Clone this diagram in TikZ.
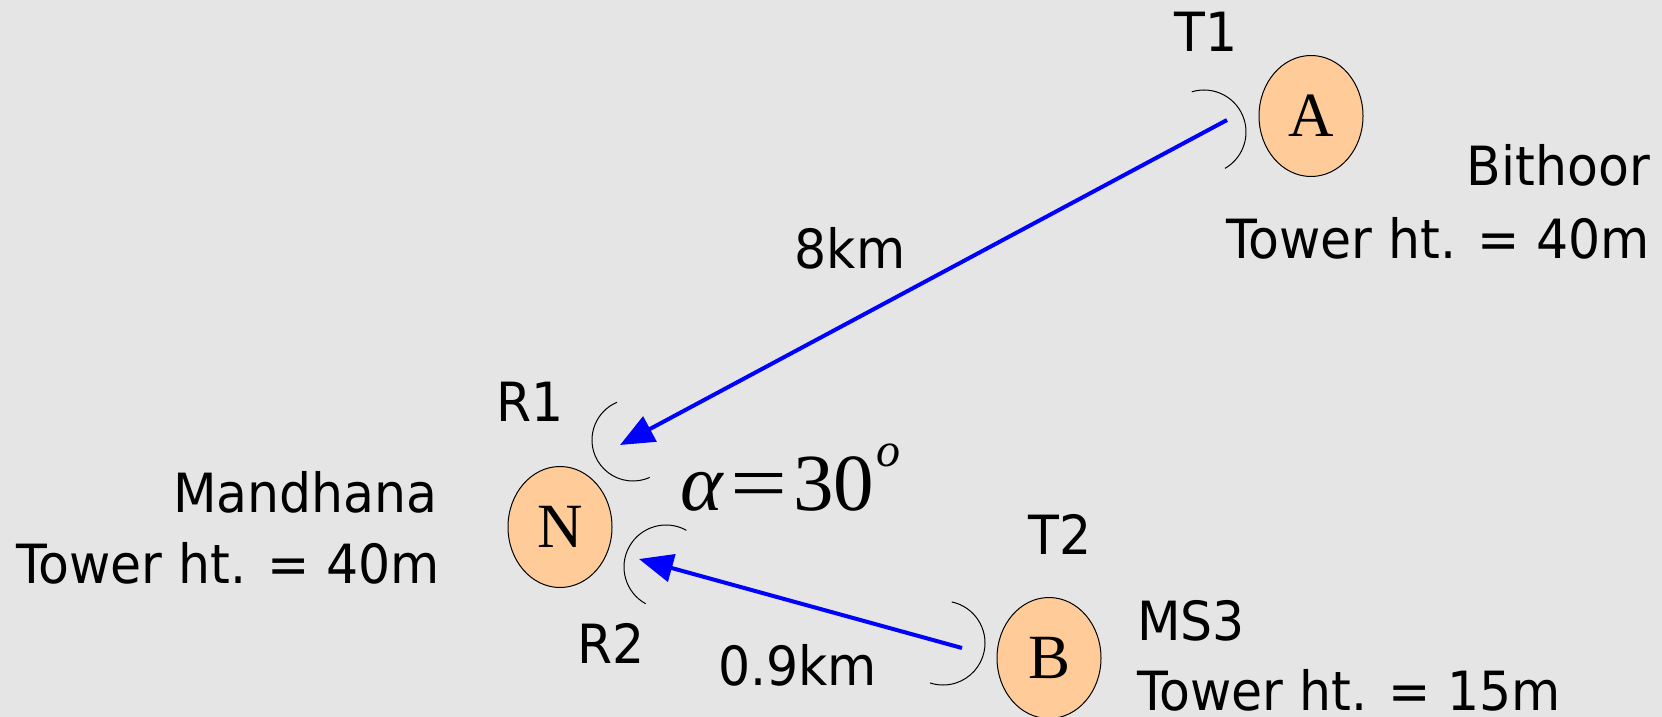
\documentclass[tikz,border=0pt]{standalone}
\usepackage{fontspec}
\setmainfont{Liberation Serif}
\newfontfamily\labfont{DejaVu Sans}
\usetikzlibrary{arrows.meta,shapes.geometric}
\definecolor{bgmarble}{RGB}{229,229,229}
\definecolor{peach}{RGB}{255,204,153}
\newcommand{\tallt}[1]{\scalebox{1}[1.07]{#1}}
\begin{document}
\begin{tikzpicture}[x=1pt,y=1pt,
  lab/.style={inner sep=0pt, font=\labfont\fontsize{50.5}{60}\selectfont},
  stn/.style={ellipse, draw=black, line width=1pt, fill=peach,
    minimum width=104pt, minimum height=121pt, inner sep=0pt,
    font=\fontsize{63}{70}\selectfont},
  ant/.style={draw=black, line width=1pt},
  link/.style={draw=blue, line width=4pt, -{Triangle[length=34pt,width=28pt]}},
]
\fill[bgmarble] (0,0) rectangle (1662,-717);
\useasboundingbox (0,0) rectangle (1662,-717);

% stations
\node[stn] (A) at (1311,-116) {A};
\node[stn] (N) at (560,-527) {N};
\node[stn] (B) at (1049,-658) {B};

% antenna arcs
\coordinate (T1c) at (1204,-132);
\coordinate (R1c) at (633,-440);
\coordinate (R2c) at (666,-567);
\coordinate (T2c) at (943,-643);
\draw[ant] (T1c) ++(107:42) arc[start angle=107, end angle=-60, radius=42];
\draw[ant] (R1c) ++(113:41) arc[start angle=113, end angle=294, radius=41];
\draw[ant] (R2c) ++(61:42) arc[start angle=61, end angle=241, radius=42];
\draw[ant] (T2c) ++(78:42) arc[start angle=78, end angle=-108, radius=42];

% links
\coordinate (Atx) at (1227,-120);
\coordinate (Nr1) at (620,-445);
\coordinate (Btx) at (962,-648);
\coordinate (Nr2) at (639,-559);
\draw[link] (Atx) -- (Nr1);
\draw[link] (Btx) -- (Nr2);

% labels
\node[lab, anchor=base] (t1) at (1206,-52) {\tallt{T1}};
\node[lab, anchor=base east] (bith) at (1650,-185) {\tallt{Bithoor}};
\node[lab, anchor=base east] (towA) at (1650,-258) {\tallt{Tower ht. = 40m}};
\node[lab, anchor=base] (d1) at (850,-268) {\tallt{8km}};
\node[lab, anchor=base] (r1) at (530,-421) {\tallt{R1}};
\node[lab, anchor=base east] (mand) at (438,-512) {\tallt{Mandhana}};
\node[lab, anchor=base east] (towN) at (440,-583) {\tallt{Tower ht. = 40m}};
\node[lab, anchor=base] (r2) at (611,-663) {\tallt{R2}};
\node[lab, anchor=base] (t2) at (1060,-554) {\tallt{T2}};
\node[lab, anchor=base west] (d2) at (718,-685) {\tallt{0.9km}};
\node[lab, anchor=base west] (ms3) at (1137,-640) {\tallt{MS3}};
\node[lab, anchor=base west] (towB) at (1137,-710) {\tallt{Tower ht. = 15m}};

\node[anchor=base west, inner sep=0pt, font=\fontsize{81}{90}\selectfont] (alpha) at (680,-510)
  {\textit{α}\hspace{6pt}\scalebox{1.25}[1]{=}\hspace{6pt}30\hspace{2pt}\raisebox{44pt}{\fontsize{48}{48}\selectfont\textit{o}}};
\end{tikzpicture}
\end{document}
